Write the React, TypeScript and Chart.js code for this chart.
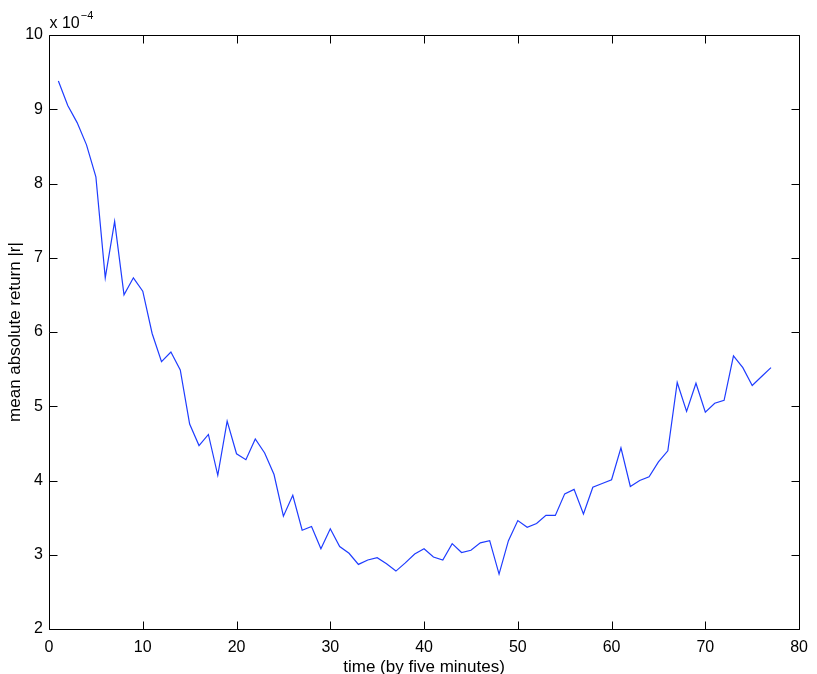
import React, { useEffect, useRef } from "react";
import { Chart, registerables } from "chart.js";

Chart.register(...registerables);

// mean absolute return |r|, in units of 1e-4, for time steps 1..77 (by five minutes)
const meanAbsReturn: number[] = [
  9.38, 9.05, 8.82, 8.52, 8.09, 6.73, 7.49, 6.50, 6.73, 6.55,
  5.98, 5.60, 5.73, 5.49, 4.76, 4.47, 4.62, 4.07, 4.80, 4.36,
  4.28, 4.56, 4.37, 4.08, 3.52, 3.80, 3.33, 3.38, 3.08, 3.35,
  3.11, 3.02, 2.87, 2.93, 2.96, 2.88, 2.78, 2.89, 3.01, 3.08,
  2.97, 2.93, 3.15, 3.03, 3.06, 3.16, 3.19, 2.74, 3.19, 3.46,
  3.37, 3.42, 3.53, 3.53, 3.82, 3.88, 3.55, 3.91, 3.96, 4.01,
  4.44, 3.92, 4.00, 4.05, 4.25, 4.40, 5.32, 4.93, 5.31, 4.92,
  5.04, 5.08, 5.68, 5.52, 5.28, 5.40, 5.52,
];

const xTicks: number[] = [0, 10, 20, 30, 40, 50, 60, 70, 80];
const yTicks: number[] = [2, 3, 4, 5, 6, 7, 8, 9, 10];
const xTitle = "time (by five minutes)";
const yTitle = "mean absolute return |r|";
const scaleBase = "x 10";
const scaleExp = "\u22124";

const FONT = "'Liberation Sans', Arial, Helvetica, sans-serif";

const boxPlugin = {
  id: "matlabBox",
  afterDraw(chart: any) {
    const { ctx, chartArea } = chart;
    const { left, right, top, bottom } = chartArea;
    const xs = chart.scales.x;
    const ys = chart.scales.y;
    ctx.save();
    ctx.strokeStyle = "#000";
    ctx.lineWidth = 1;
    const L = Math.round(left) + 0.5;
    const R = Math.round(right) + 0.5;
    const T = Math.round(top) + 0.5;
    const B = Math.round(bottom) + 0.5;
    ctx.beginPath();
    ctx.rect(L, T, R - L, B - T);
    const tl = 8;
    xTicks.forEach((v) => {
      const px = Math.round(xs.getPixelForValue(v)) + 0.5;
      ctx.moveTo(px, B);
      ctx.lineTo(px, B - tl);
      ctx.moveTo(px, T);
      ctx.lineTo(px, T + tl);
    });
    yTicks.forEach((v) => {
      const py = Math.round(ys.getPixelForValue(v)) + 0.5;
      ctx.moveTo(L, py);
      ctx.lineTo(L + tl, py);
      ctx.moveTo(R, py);
      ctx.lineTo(R - tl, py);
    });
    ctx.stroke();
    // exponent label
    ctx.fillStyle = "#000";
    ctx.textBaseline = "alphabetic";
    ctx.textAlign = "left";
    ctx.font = `16px ${FONT}`;
    ctx.fillText(scaleBase, L, T - 8);
    const w = ctx.measureText(scaleBase).width;
    ctx.font = `11px ${FONT}`;
    ctx.fillText(scaleExp, L + w + 1, T - 17);
    ctx.restore();
  },
};

export default function App() {
  const ref = useRef<HTMLCanvasElement | null>(null);
  useEffect(() => {
    if (!ref.current) return;
    const chart = new Chart(ref.current, {
      type: "line",
      data: {
        datasets: [
          {
            data: meanAbsReturn.map((v, i) => ({ x: i + 1, y: v })),
            borderColor: "rgb(30,60,255)",
            borderWidth: 1.2,
            pointRadius: 0,
            tension: 0,
            fill: false,
          },
        ],
      },
      options: {
        responsive: false,
        animation: false,
        layout: { padding: { top: 35, right: 16, left: 0, bottom: 0 } },
        plugins: {
          legend: { display: false },
          tooltip: { enabled: false },
        },
        scales: {
          x: {
            type: "linear",
            min: 0,
            max: 80,
            afterFit: (s: any) => {
              s.height = 45;
            },
            afterBuildTicks: (s: any) => {
              s.ticks = xTicks.map((v) => ({ value: v }));
            },
            grid: { display: false, drawTicks: false },
            border: { display: false },
            ticks: {
              color: "#000",
              font: { family: FONT, size: 16 },
              padding: 9,
              maxRotation: 0,
              autoSkip: false,
            },
            title: {
              display: true,
              text: xTitle,
              color: "#000",
              font: { family: FONT, size: 17, lineHeight: 0.8 },
              padding: { top: 0, bottom: 0 },
            },
          },
          y: {
            type: "linear",
            min: 2,
            max: 10,
            afterFit: (s: any) => {
              s.width = 49;
            },
            afterBuildTicks: (s: any) => {
              s.ticks = yTicks.map((v) => ({ value: v }));
            },
            grid: { display: false, drawTicks: false },
            border: { display: false },
            ticks: {
              color: "#000",
              font: { family: FONT, size: 16 },
              padding: 6,
              autoSkip: false,
            },
            title: {
              display: true,
              text: yTitle,
              color: "#000",
              font: { family: FONT, size: 17, lineHeight: 0.8 },
              padding: { top: 9, bottom: 0 },
            },
          },
        },
      },
      plugins: [boxPlugin],
    });
    return () => chart.destroy();
  }, []);
  return (
    <div style={{ position: "absolute", left: 0, top: 0, width: 817, height: 674, background: "#fff" }}>
      <canvas ref={ref} width={817} height={674} />
    </div>
  );
}
